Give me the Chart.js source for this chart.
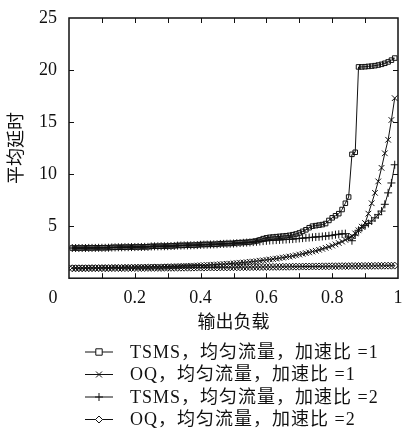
<!DOCTYPE html>
<html>
<head>
<meta charset="utf-8">
<script src="https://cdn.jsdelivr.net/npm/chart.js@4.4.0/dist/chart.umd.min.js"></script>
<style>
  html, body { margin: 0; padding: 0; background: #fff; }
  #wrap { width: 403px; height: 430px; }
</style>
</head>
<body>
<div id="wrap"><canvas id="delayChart"></canvas></div>
<script>
// output load (x axis)
const loads = [
  0.01, 0.02, 0.03, 0.04, 0.05, 0.06, 0.07, 0.08, 0.09, 0.10,
  0.11, 0.12, 0.13, 0.14, 0.15, 0.16, 0.17, 0.18, 0.19, 0.20,
  0.21, 0.22, 0.23, 0.24, 0.25, 0.26, 0.27, 0.28, 0.29, 0.30,
  0.31, 0.32, 0.33, 0.34, 0.35, 0.36, 0.37, 0.38, 0.39, 0.40,
  0.41, 0.42, 0.43, 0.44, 0.45, 0.46, 0.47, 0.48, 0.49, 0.50,
  0.51, 0.52, 0.53, 0.54, 0.55, 0.56, 0.57, 0.58, 0.59, 0.60,
  0.61, 0.62, 0.63, 0.64, 0.65, 0.66, 0.67, 0.68, 0.69, 0.70,
  0.71, 0.72, 0.73, 0.74, 0.75, 0.76, 0.77, 0.78, 0.79, 0.80,
  0.81, 0.82, 0.83, 0.84, 0.85, 0.86, 0.87, 0.88, 0.89, 0.90,
  0.91, 0.92, 0.93, 0.94, 0.95, 0.96, 0.97, 0.98, 0.99
];

// average delay, TSMS, speedup 1
const tsmsSpeedup1 = [
  2.90, 2.90, 2.90, 2.90, 2.91, 2.91, 2.91, 2.92, 2.92, 2.92,
  2.93, 2.93, 2.96, 2.97, 2.97, 2.98, 2.98, 2.99, 2.99, 3.00,
  3.00, 3.01, 3.01, 3.02, 3.06, 3.07, 3.07, 3.08, 3.08, 3.09,
  3.10, 3.11, 3.15, 3.15, 3.16, 3.17, 3.17, 3.18, 3.19, 3.23,
  3.24, 3.25, 3.25, 3.26, 3.27, 3.31, 3.32, 3.33, 3.34, 3.35,
  3.40, 3.41, 3.43, 3.45, 3.48, 3.52, 3.58, 3.68, 3.80, 3.88,
  3.93, 3.96, 3.99, 4.02, 4.05, 4.08, 4.12, 4.18, 4.25, 4.35,
  4.50, 4.65, 4.85, 5.00, 5.05, 5.10, 5.15, 5.25, 5.55, 5.80,
  6.00, 6.20, 6.60, 7.20, 7.80, 11.90, 12.10, 20.30, 20.30, 20.32,
  20.35, 20.38, 20.42, 20.48, 20.55, 20.65, 20.78, 20.95, 21.15
];

// average delay, OQ, speedup 1
const oqSpeedup1 = [
  1.00, 1.00, 1.00, 1.00, 1.00, 1.01, 1.01, 1.01, 1.01, 1.02,
  1.02, 1.02, 1.03, 1.03, 1.03, 1.04, 1.04, 1.05, 1.05, 1.06,
  1.06, 1.07, 1.07, 1.08, 1.08, 1.09, 1.10, 1.10, 1.11, 1.12,
  1.13, 1.14, 1.15, 1.16, 1.17, 1.18, 1.19, 1.20, 1.22, 1.23,
  1.25, 1.26, 1.28, 1.30, 1.32, 1.34, 1.36, 1.38, 1.40, 1.43,
  1.45, 1.48, 1.51, 1.54, 1.57, 1.60, 1.64, 1.68, 1.72, 1.76,
  1.80, 1.84, 1.88, 1.93, 1.98, 2.03, 2.08, 2.14, 2.20, 2.27,
  2.34, 2.41, 2.48, 2.56, 2.64, 2.73, 2.82, 2.92, 3.02, 3.13,
  3.25, 3.38, 3.52, 3.68, 3.85, 4.05, 4.30, 4.60, 4.95, 5.30,
  6.20, 7.20, 8.20, 9.30, 10.60, 12.00, 13.30, 15.20, 17.30
];

// average delay, TSMS, speedup 2
const tsmsSpeedup2 = [
  2.90, 2.90, 2.90, 2.90, 2.90, 2.91, 2.91, 2.91, 2.92, 2.92,
  2.92, 2.93, 2.95, 2.96, 2.97, 2.97, 2.98, 2.98, 2.99, 2.99,
  3.00, 3.00, 3.01, 3.01, 3.05, 3.06, 3.06, 3.07, 3.07, 3.08,
  3.09, 3.10, 3.13, 3.14, 3.15, 3.15, 3.16, 3.17, 3.18, 3.21,
  3.22, 3.23, 3.24, 3.25, 3.26, 3.29, 3.30, 3.31, 3.32, 3.33,
  3.36, 3.38, 3.40, 3.42, 3.44, 3.47, 3.50, 3.53, 3.56, 3.59,
  3.62, 3.64, 3.66, 3.68, 3.70, 3.72, 3.74, 3.76, 3.79, 3.82,
  3.85, 3.88, 3.90, 3.93, 3.96, 3.98, 4.01, 4.04, 4.08, 4.12,
  4.18, 4.22, 4.26, 4.28, 3.95, 3.60, 4.15, 4.60, 4.85, 5.05,
  5.25, 5.50, 5.80, 6.10, 6.45, 7.10, 8.20, 9.15, 10.90
];

// average delay, OQ, speedup 2
const oqSpeedup2 = [
  0.95, 0.95, 0.95, 0.95, 0.95, 0.95, 0.96, 0.96, 0.96, 0.96,
  0.96, 0.96, 0.97, 0.97, 0.97, 0.97, 0.97, 0.97, 0.98, 0.98,
  0.98, 0.98, 0.98, 0.99, 0.99, 0.99, 0.99, 0.99, 1.00, 1.00,
  1.00, 1.00, 1.00, 1.01, 1.01, 1.01, 1.01, 1.02, 1.02, 1.02,
  1.02, 1.03, 1.03, 1.03, 1.03, 1.04, 1.04, 1.04, 1.05, 1.05,
  1.05, 1.05, 1.06, 1.06, 1.06, 1.07, 1.07, 1.07, 1.08, 1.08,
  1.08, 1.09, 1.09, 1.09, 1.10, 1.10, 1.10, 1.11, 1.11, 1.11,
  1.12, 1.12, 1.12, 1.13, 1.13, 1.13, 1.14, 1.14, 1.14, 1.15,
  1.15, 1.15, 1.16, 1.16, 1.16, 1.17, 1.17, 1.17, 1.18, 1.18,
  1.18, 1.18, 1.19, 1.19, 1.19, 1.20, 1.20, 1.20, 1.21
];

const seriesNames = [
  "TSMS，均匀流量，加速比 =1",
  "OQ，均匀流量，加速比 =1",
  "TSMS，均匀流量，加速比 =2",
  "OQ，均匀流量，加速比 =2"
];
const yTicks = [5, 10, 15, 20, 25];
const xTickLabels = [0.2, 0.4, 0.6, 0.8, 1];

const FONT = "'Liberation Serif', 'Noto Sans CJK SC', serif";
const INK = "#111";

function toPoints(values) {
  return values.map((v, i) => ({ x: loads[i], y: v }));
}

function makeDataset(label, values, style, radius) {
  return {
    label: label,
    data: toPoints(values),
    borderColor: INK,
    borderWidth: 1,
    pointStyle: style,
    pointRadius: radius,
    pointBorderColor: INK,
    pointBorderWidth: 1,
    pointBackgroundColor: "rgba(0,0,0,0)",
    tension: 0,
    fill: false
  };
}

// little markers for the legend rows
function drawMarker(ctx, style, x, y, r) {
  ctx.beginPath();
  if (style === "rect") {
    ctx.rect(x - r, y - r, 2 * r, 2 * r);
  } else if (style === "rectRot") {
    ctx.moveTo(x, y - r); ctx.lineTo(x + r, y); ctx.lineTo(x, y + r); ctx.lineTo(x - r, y); ctx.closePath();
  } else if (style === "cross") {
    ctx.moveTo(x - r, y); ctx.lineTo(x + r, y); ctx.moveTo(x, y - r); ctx.lineTo(x, y + r);
  } else if (style === "crossRot") {
    const d = r * 0.75;
    ctx.moveTo(x - d, y - d); ctx.lineTo(x + d, y + d); ctx.moveTo(x + d, y - d); ctx.lineTo(x - d, y + d);
  }
  if (style === "rect" || style === "rectRot") {
    ctx.fillStyle = "#fff";
    ctx.fill();
  }
  ctx.stroke();
}

// hidden tick marks: they only push the tick labels away from the frame
const spacerGrid = (len) => ({
  display: true,
  drawOnChartArea: false,
  drawTicks: true,
  tickLength: len,
  color: "rgba(0,0,0,0)"
});

const framePlugin = {
  id: "frameTicks",
  afterDatasetsDraw(chart) {
    const { ctx, chartArea: a, scales } = chart;
    const xs = scales.x, ys = scales.y;
    ctx.save();
    ctx.strokeStyle = INK;
    ctx.lineWidth = 1;
    ctx.beginPath();
    xs.ticks.forEach(t => {
      if (t.value <= 0.001 || t.value >= 0.999) return;
      const px = Math.round(xs.getPixelForValue(t.value)) + 0.5;
      ctx.moveTo(px, a.bottom); ctx.lineTo(px, a.bottom - 5);
      ctx.moveTo(px, a.top); ctx.lineTo(px, a.top + 5);
    });
    ys.ticks.forEach(t => {
      if (t.value <= 0 || t.value >= 25) return;
      const py = Math.round(ys.getPixelForValue(t.value)) + 0.5;
      ctx.moveTo(a.left, py); ctx.lineTo(a.left + 5, py);
      ctx.moveTo(a.right, py); ctx.lineTo(a.right - 5, py);
    });
    ctx.stroke();
    ctx.lineWidth = 1.5;
    ctx.strokeRect(a.left, a.top, a.right - a.left, a.bottom - a.top);

    // origin label sits a bit left of the axis corner
    ctx.fillStyle = INK;
    ctx.font = "18px " + FONT;
    ctx.textAlign = "center";
    ctx.textBaseline = "middle";
    ctx.fillText("0", xs.getPixelForValue(0) - 16, a.bottom + 20);

    // legend: line sample with marker, then the label
    const rowY = [352, 374.5, 397, 419.5];
    ctx.font = "18px " + FONT;
    ctx.letterSpacing = "1px";
    chart.data.datasets.forEach((ds, i) => {
      const y = rowY[i];
      ctx.lineWidth = 1;
      ctx.beginPath();
      ctx.moveTo(85, y); ctx.lineTo(113, y);
      ctx.stroke();
      drawMarker(ctx, ds.pointStyle, 99, y, ds.pointRadius);
      ctx.fillStyle = INK;
      ctx.textAlign = "left";
      ctx.fillText(ds.label, 130, y + 1);
    });
    ctx.restore();
  }
};

new Chart(document.getElementById("delayChart"), {
  type: "line",
  data: {
    datasets: [
      makeDataset(seriesNames[0], tsmsSpeedup1, "rect", 3.2),
      makeDataset(seriesNames[1], oqSpeedup1, "crossRot", 4),
      makeDataset(seriesNames[2], tsmsSpeedup2, "cross", 4),
      makeDataset(seriesNames[3], oqSpeedup2, "rectRot", 3.5)
    ]
  },
  options: {
    responsive: true,
    maintainAspectRatio: false,
    animation: false,
    layout: { padding: { left: 6, right: 1, top: 18, bottom: 96 } },
    plugins: {
      legend: { display: false },
      tooltip: { enabled: false }
    },
    scales: {
      x: {
        type: "linear",
        min: 0,
        max: 1,
        grid: spacerGrid(11),
        border: { display: false },
        ticks: {
          stepSize: 0.1,
          padding: -2,
          color: INK,
          font: { family: FONT, size: 18 },
          maxRotation: 0,
          autoSkip: false,
          callback: v => {
            const hit = xTickLabels.find(t => Math.abs(t - v) < 1e-6);
            return hit === undefined ? "" : String(hit);
          }
        },
        title: {
          display: true,
          text: "输出负载",
          color: INK,
          font: { family: FONT, size: 18 },
          padding: { top: 5.6, bottom: 0 }
        }
      },
      y: {
        min: 0,
        max: 25,
        grid: spacerGrid(10),
        border: { display: false },
        ticks: {
          stepSize: 5,
          padding: 2,
          color: INK,
          font: { family: FONT, size: 18 },
          callback: v => (yTicks.includes(v) ? String(v) : "")
        },
        title: {
          display: true,
          text: "平均延时",
          color: INK,
          font: { family: FONT, size: 18 },
          padding: { top: 0, bottom: 9.4 }
        }
      }
    }
  },
  plugins: [framePlugin]
});
</script>
</body>
</html>
